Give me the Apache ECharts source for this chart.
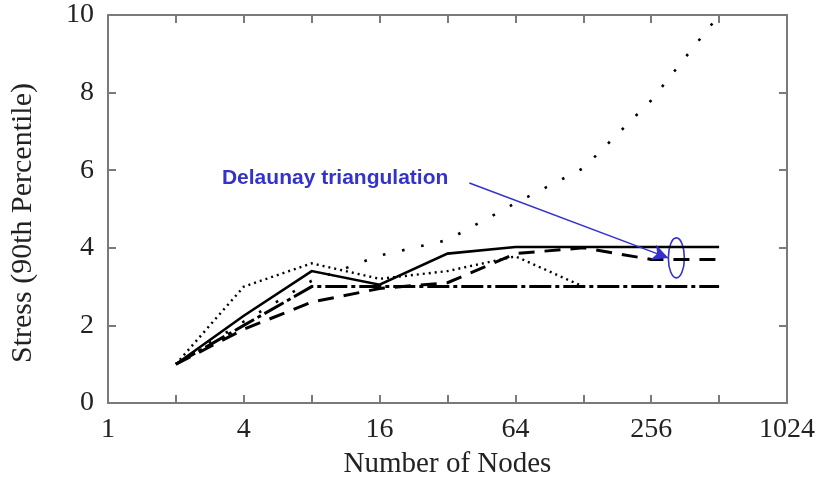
<!DOCTYPE html>
<html>
<head>
<meta charset="utf-8">
<script src="https://cdn.jsdelivr.net/npm/echarts@6/dist/echarts.min.js"></script>
<style>
html, body { margin: 0; background: #fff; }
#chart { width: 822px; height: 485px; }
</style>
</head>
<body>
<div id="chart"></div>
<script>
// number of nodes (x) and 90th percentile stress for each curve
const nodes = [2, 4, 8, 16, 32, 64, 128, 256, 512]
const solidLine = [1, 2.25, 3.4, 3.05, 3.85, 4.02, 4.02, 4.02, 4.02]
const fineDotted = [1, 3.0, 3.6, 3.2, 3.4, 3.78, 3.0, null, null]
const dashDot = [1, 2.0, 3.0, 3.0, 3.0, 3.0, 3.0, 3.0, 3.0]
const delaunay = [1, 1.9, 2.6, 2.95, 3.1, 3.85, 4.0, 3.7, 3.7]
const sparseDotted = [1, 2.1, 3.15, 3.8, 4.2, 5.15, 6.05, 7.8, 10]

const yTicks = [0, 2, 4, 6, 8, 10]
const labelText = 'Delaunay triangulation'
const labelAt = [3.2, 5.8]
const arrowFrom = [40, 5.67]
const arrowTo = [305, 3.74]
const ellipseAt = [331, 3.74]

const blue = '#3333cc'
const axisGrey = '#7a7a7a'
const serif = '"Liberation Serif", "Times New Roman", serif'

function pairs(values) {
  return nodes.map((n, i) => [n, values[i]]).filter(p => p[1] != null)
}

function line(name, values, width, type, extra) {
  return Object.assign({
    name,
    type: 'line',
    symbol: 'none',
    silent: true,
    animation: false,
    data: pairs(values),
    lineStyle: { color: '#000', width, type, cap: 'butt', join: 'miter' }
  }, extra || {})
}

function xAxis(position, labels) {
  return {
    type: 'log',
    logBase: 2,
    min: 1,
    max: 1024,
    interval: 1,
    position,
    name: labels ? 'Number of Nodes' : '',
    nameLocation: 'middle',
    nameGap: 47,
    nameTextStyle: { fontFamily: serif, fontSize: 29, color: '#222' },
    axisLine: { show: true, onZero: false, lineStyle: { color: axisGrey, width: 2 } },
    axisTick: { show: true, inside: true, length: 8, lineStyle: { color: axisGrey, width: 2 } },
    axisLabel: {
      show: labels,
      margin: 13,
      fontFamily: serif,
      fontSize: 28,
      color: '#222',
      showMinLabel: true,
      showMaxLabel: true,
      formatter: v => (Math.round(Math.log2(v)) % 2 === 0 ? String(Math.round(v)) : '')
    },
    splitLine: { show: false }
  }
}

function yAxis(position, labels) {
  return {
    type: 'value',
    min: yTicks[0],
    max: yTicks[yTicks.length - 1],
    interval: 2,
    position,
    name: labels ? 'Stress (90th Percentile)' : '',
    nameLocation: 'middle',
    nameGap: 70,
    nameTextStyle: { fontFamily: serif, fontSize: 30, color: '#222', padding: [0, 28, 0, 0] },
    axisLine: { show: true, onZero: false, lineStyle: { color: axisGrey, width: 2 } },
    axisTick: { show: true, inside: true, length: 8, lineStyle: { color: axisGrey, width: 2 } },
    axisLabel: { show: labels, margin: 14, fontFamily: serif, fontSize: 28, color: '#222' },
    splitLine: { show: false }
  }
}

const chart = echarts.init(document.getElementById('chart'), null, { renderer: 'canvas' })

chart.setOption({
  animation: false,
  grid: { left: 106, top: 15, right: 35, bottom: 82 },
  xAxis: [xAxis('bottom', true), xAxis('top', false)],
  yAxis: [yAxis('left', true), yAxis('right', false)],
  series: [
    line('dash-dot', dashDot, 3, [22, 4, 4, 4]),
    line('delaunay', delaunay, 3, [16, 10], {
      markLine: {
        silent: true,
        animation: false,
        symbol: ['none', 'arrow'],
        symbolSize: [12, 16],
        label: { show: false },
        lineStyle: { color: blue, width: 1.5, type: 'solid' },
        data: [[{ coord: arrowFrom }, { coord: arrowTo }]]
      }
    }),
    line('fine dotted', fineDotted, 2.4, [2, 4]),
    line('sparse dotted', sparseDotted, 2.6, [2.6, 17]),
    line('solid', solidLine, 2.6, 'solid')
  ]
})

function drawNotes() {
  const t = chart.convertToPixel({ xAxisIndex: 0, yAxisIndex: 0 }, labelAt)
  const e = chart.convertToPixel({ xAxisIndex: 0, yAxisIndex: 0 }, ellipseAt)
  chart.setOption({
    graphic: [
      {
        type: 'text',
        x: t[0],
        y: t[1],
        silent: true,
        style: {
          text: labelText,
          fill: blue,
          font: 'bold 21px "Liberation Sans", Arial, sans-serif',
          verticalAlign: 'middle'
        }
      },
      {
        type: 'ellipse',
        silent: true,
        shape: { cx: e[0], cy: e[1], rx: 8, ry: 20 },
        style: { fill: 'none', stroke: blue, lineWidth: 1.6 }
      }
    ]
  })
}
drawNotes()
</script>
</body>
</html>
